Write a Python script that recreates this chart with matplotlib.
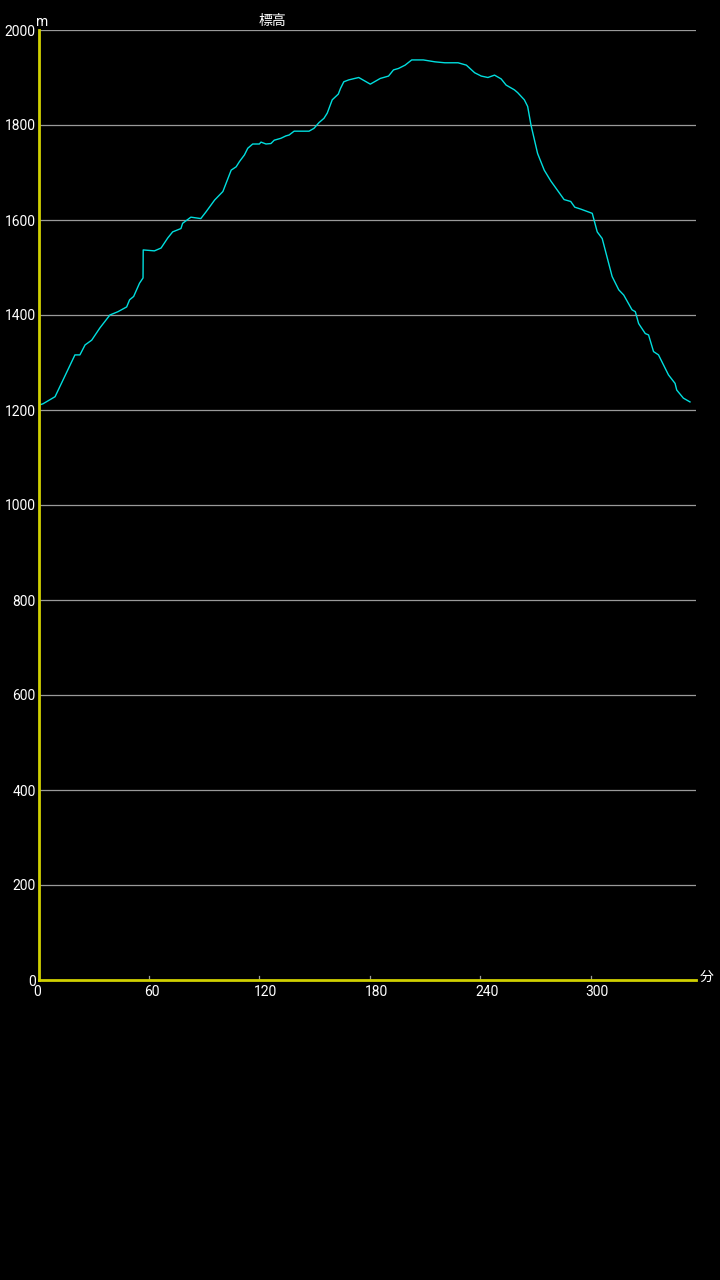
import matplotlib
matplotlib.use('Agg')
import matplotlib.pyplot as plt
from matplotlib.transforms import offset_copy

plt.rcParams['font.family'] = ['Roboto', 'Noto Sans CJK JP', 'DejaVu Sans']

# elapsed minutes / elevation (m) read from the track
minutes = [0, 2.4, 9, 13.3, 19.8, 22.5, 25.3, 28.9, 33.4, 38.8, 43.2, 47.9, 49.5, 51.7,
           54.9, 56.8, 56.9, 63, 66.6, 70.2, 72.9, 77.4, 78.3, 82.8, 88.2, 91, 95.7,
           100.2, 104.7, 107.4, 109.2, 111.9, 113.7, 116.4, 120, 120.9, 123.6, 126.3,
           128.1, 131.7, 134.4, 136.2, 138.9, 147, 149.7, 152.4, 155.1, 156.9, 159.6,
           162.9, 164.1, 165.9, 168.6, 174, 180.3, 185.7, 190.2, 192.9, 195.6, 199.2,
           202.8, 209.1, 215.4, 220.8, 228, 232.5, 237, 240.6, 244.2, 247.8, 251.4,
           254.1, 258.6, 260.4, 264, 265.8, 267.6, 271.2, 274.8, 278.4, 285.6, 289.2,
           291.4, 294.6, 300.9, 303.6, 306.3, 311.7, 315.3, 318, 322.5, 324.3, 326.1,
           329.7, 331.5, 334.2, 336.9, 342.3, 345.9, 346.8, 350.4, 354]
elev = [1210, 1213, 1228, 1263, 1316, 1316, 1337, 1347, 1373, 1400, 1407, 1417, 1432, 1439,
        1467, 1478, 1537, 1535, 1541, 1562, 1575, 1582, 1593, 1606, 1603, 1617, 1642,
        1660, 1705, 1712, 1723, 1737, 1751, 1760, 1760, 1764, 1760, 1761,
        1768, 1772, 1777, 1779, 1787, 1787, 1793, 1805, 1814, 1825, 1853,
        1865, 1877, 1891, 1895, 1900, 1886, 1898, 1903, 1916, 1919, 1926,
        1937, 1937, 1933, 1931, 1931, 1926, 1910, 1903, 1900, 1905, 1897,
        1884, 1874, 1868, 1853, 1839, 1800, 1740, 1705, 1682, 1643, 1639,
        1627, 1623, 1614, 1575, 1561, 1481, 1453, 1442, 1411, 1407, 1382,
        1361, 1358, 1323, 1316, 1274, 1256, 1242, 1225, 1217]

xticks = [0, 60, 120, 180, 240, 300]
yticks = [0, 200, 400, 600, 800, 1000, 1200, 1400, 1600, 1800, 2000]

fig = plt.figure(figsize=(7.2, 12.8), dpi=100, facecolor='black')
ax = fig.add_axes([38.5/720, 1-980/1280, (695.5-38.5)/720, 950/1280], facecolor='black')

ax.set_xlim(0, 357)
ax.set_ylim(0, 2000)

for v in yticks[1:]:
    ax.axhline(v, color='#9a9a9a', lw=0.9, zorder=1)
for v in xticks[1:]:
    ax.plot([v, v], [0, 8], color='#9a9a9a', lw=0.9, zorder=1)

ax.plot(minutes, elev, color='#00dede', lw=1.0, zorder=3)

for s in ['top', 'right']:
    ax.spines[s].set_visible(False)
for s in ['left', 'bottom']:
    ax.spines[s].set_color('#d0d000')
    ax.spines[s].set_linewidth(2)
    ax.spines[s].set_zorder(4)

ax.tick_params(length=0, colors='white', labelsize=10)
ax.set_xticks([])
ax.set_yticks(yticks)
ax.set_yticklabels([str(v) for v in yticks])
ax.tick_params(axis='y', pad=2)

# x labels start a little left of their tick
lab_tr = offset_copy(ax.get_xaxis_transform(), fig=fig, x=-5, y=-5, units='dots')
for v in xticks:
    ax.text(v, 0, str(v), transform=lab_tr, color='white', fontsize=10,
            ha='left', va='top')

fig.text(36/720, 1-22/1280, 'm', color='white', fontsize=10, ha='left', va='center')
fig.text(700/720, 1-977/1280, '分', color='white', fontsize=10, ha='left', va='center')
fig.text(272/720, 1-21/1280, '標高', color='white', fontsize=10, ha='center', va='center')

fig.savefig('out.png', dpi=100, facecolor='black')
